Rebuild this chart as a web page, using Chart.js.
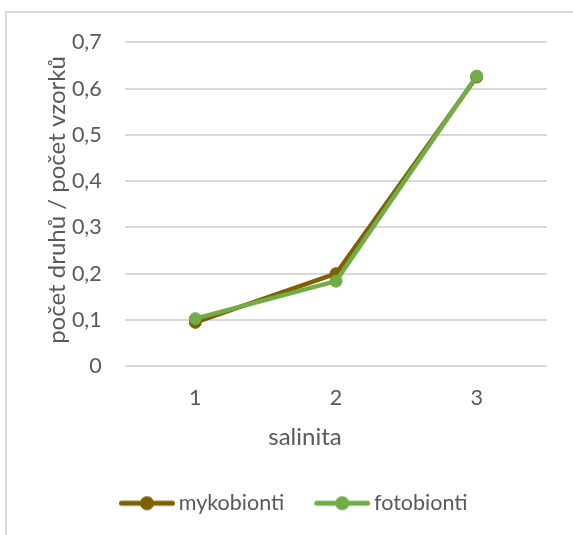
<!DOCTYPE html>
<html>
<head>
<meta charset="utf-8">
<script src="https://cdn.jsdelivr.net/npm/chart.js@4/dist/chart.umd.min.js"></script>
<style>
  html, body { margin: 0; padding: 0; background: #fff; overflow: hidden; }
  #frame { position: absolute; left: 5px; top: 11px; width: 700px; height: 700px;
           border: 2px solid #d9d9d9; box-sizing: border-box; }
  #c { position: absolute; left: 0; top: 0; }
</style>
</head>
<body>
<div id="frame"></div>
<canvas id="c" width="573" height="535"></canvas>
<script>
// Salinity classes and the ratio of species to samples for each partner
const categories = ['1', '2', '3'];
const mykobionti = [0.095, 0.2, 0.625];
const fotobionti = [0.103, 0.184, 0.627];
const yTickLabels = ['0', '0,1', '0,2', '0,3', '0,4', '0,5', '0,6', '0,7'];
const seriesNames = ['mykobionti', 'fotobionti'];
const seriesColors = ['#7f6000', '#70ad47'];
const xTitle = 'salinita';
const yTitle = 'počet druhů / počet vzorků';

const TEXT = '#595959';
const FONT = 'Lato';

// Legend symbol: a short line with a dot in the middle
function legendMarker(color) {
  const s = 7, B = 56, w = B + 2 * s, h = 16;
  const cv = document.createElement('canvas');
  cv.width = w; cv.height = h;
  const g = cv.getContext('2d');
  g.strokeStyle = color; g.lineWidth = 5; g.lineCap = 'round';
  g.beginPath(); g.moveTo(2 * s + 2.5, h / 2); g.lineTo(w - 2.5, h / 2); g.stroke();
  g.fillStyle = color;
  g.beginPath(); g.arc(2 * s + B / 2, h / 2, 7, 0, Math.PI * 2); g.fill();
  return cv;
}
const markers = seriesColors.map(legendMarker);

// Fine placement of the legend row and the axis titles
const placement = {
  id: 'placement',
  afterLayout(chart) {
    const lg = chart.legend;
    const w = lg.right - lg.left;
    lg.left = 89; lg.right = 89 + w;
    chart.scales.x.left -= 62;
    chart.scales.y.top -= 4.3;
    chart.scales.y.bottom -= 4.3;
  }
};

const datasets = [mykobionti, fotobionti].map((vals, i) => ({
  label: seriesNames[i],
  data: vals,
  borderColor: seriesColors[i],
  backgroundColor: seriesColors[i],
  pointBackgroundColor: seriesColors[i],
  pointBorderColor: seriesColors[i],
  borderWidth: 4.5,
  pointRadius: 6,
  pointBorderWidth: 1,
  tension: 0,
  order: i === 0 ? 1 : 0
}));

new Chart(document.getElementById('c'), {
  type: 'line',
  data: { labels: categories, datasets },
  plugins: [placement],
  options: {
    responsive: false,
    animation: false,
    devicePixelRatio: 1,
    layout: { padding: { left: 40, right: 26, top: 42.3, bottom: 11 } },
    plugins: {
      tooltip: { enabled: false },
      legend: {
        position: 'bottom',
        align: 'start',
        labels: {
          usePointStyle: true,
          pointStyleWidth: 56,
          padding: 23,
          color: TEXT,
          font: { family: FONT, size: 21.5 },
          generateLabels: chart => chart.data.datasets.map((ds, i) => ({
            text: ds.label,
            fillStyle: ds.borderColor,
            strokeStyle: ds.borderColor,
            lineWidth: 0,
            pointStyle: markers[i],
            hidden: false,
            datasetIndex: i,
            fontColor: TEXT
          }))
        }
      }
    },
    scales: {
      x: {
        offset: true,
        grid: { display: false, drawTicks: false },
        border: { display: false },
        ticks: { color: TEXT, padding: 18.8, font: { family: FONT, size: 21.5 } },
        title: { display: true, text: xTitle, color: TEXT,
                 font: { family: FONT, size: 24 }, padding: { top: 0, bottom: 18.1 } },
        afterFit: s => { s.height = 103.2; }
      },
      y: {
        min: 0, max: 0.7,
        grid: { color: '#d9d9d9', lineWidth: 2, drawTicks: false },
        border: { display: false },
        ticks: {
          stepSize: 0.1, color: TEXT, padding: 23.3,
          font: { family: FONT, size: 21.5 },
          callback: (v, i) => yTickLabels[i]
        },
        title: { display: true, text: yTitle, color: TEXT,
                 font: { family: FONT, size: 24 }, padding: { top: 2.6, bottom: 0 } },
        afterFit: s => { s.width = 85; }
      }
    }
  }
});
</script>
</body>
</html>
